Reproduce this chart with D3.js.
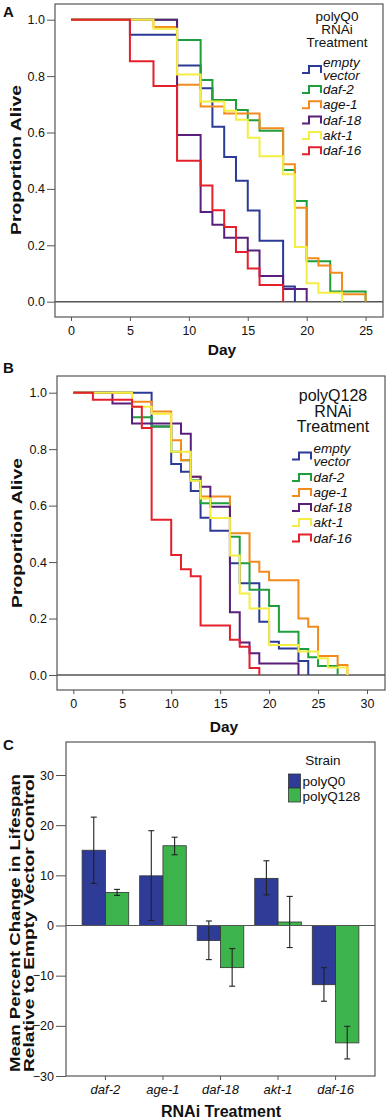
<!DOCTYPE html>
<html>
<head>
<meta charset="utf-8">
<script src="https://cdn.jsdelivr.net/npm/d3@7"></script>
<style>
  body { margin: 0; background: #fff; }
  text { font-family: Arial, "Liberation Sans", sans-serif; fill: #111; }
</style>
</head>
<body>
<svg id="fig" width="388" height="1119"></svg>
<script>
// ---- data: panel A (polyQ0), days and proportion alive ----
const strains = ["empty vector", "daf-2", "age-1", "daf-18", "akt-1", "daf-16"];
const strainColors = ["#2b3a96", "#1f9e3c", "#f28a1c", "#5a1f7c", "#f4ee42", "#e4202c"];

const aEmptyDays = [0, 5, 9, 11, 12, 13, 14, 15, 16, 18, 19];
const aEmptySurv = [1, 0.947, 0.838, 0.757, 0.62, 0.513, 0.429, 0.323, 0.216, 0.054, 0];
const aDaf2Days = [0, 9, 11, 12, 14, 15, 16, 18, 19, 20, 22, 25];
const aDaf2Surv = [1, 0.928, 0.786, 0.715, 0.68, 0.643, 0.606, 0.467, 0.357, 0.143, 0.036, 0];
const aAge1Days = [0, 7, 9, 11, 13, 16, 18, 19, 20, 21, 22, 23, 25];
const aAge1Surv = [1, 0.974, 0.769, 0.692, 0.667, 0.615, 0.487, 0.333, 0.154, 0.128, 0.103, 0.026, 0];
const aDaf18Days = [0, 9, 11, 12, 13, 15, 16, 18, 20];
const aDaf18Surv = [1, 0.591, 0.318, 0.273, 0.227, 0.182, 0.091, 0.045, 0];
const aAkt1Days = [0, 7, 9, 11, 13, 14, 15, 16, 18, 19, 20, 21, 23];
const aAkt1Surv = [1, 0.968, 0.806, 0.71, 0.677, 0.645, 0.581, 0.516, 0.452, 0.194, 0.065, 0.032, 0];
const aDaf16Days = [0, 5, 7, 9, 11, 12, 13, 14, 15, 16, 18];
const aDaf16Surv = [1, 0.853, 0.765, 0.5, 0.412, 0.324, 0.265, 0.176, 0.118, 0.059, 0];

// ---- data: panel B (polyQ128) ----
const bEmptyDays = [0, 8, 10, 11, 12, 13, 14, 16, 17, 19, 20, 21, 23, 24];
const bEmptySurv = [1, 0.88, 0.747, 0.72, 0.652, 0.557, 0.511, 0.396, 0.325, 0.189, 0.118, 0.094, 0.05, 0];
const bDaf2Days = [0, 6, 8, 10, 11, 12, 13, 16, 17, 18, 20, 21, 23, 24, 25, 27];
const bDaf2Surv = [1, 0.913, 0.88, 0.791, 0.761, 0.69, 0.608, 0.49, 0.396, 0.302, 0.244, 0.153, 0.092, 0.063, 0.032, 0];
const bAge1Days = [0, 6, 8, 10, 11, 12, 13, 16, 18, 19, 20, 23, 24, 25, 27, 28];
const bAge1Surv = [1, 0.968, 0.933, 0.832, 0.761, 0.702, 0.632, 0.502, 0.401, 0.366, 0.336, 0.2, 0.171, 0.067, 0.035, 0];
const bDaf18Days = [0, 4, 6, 11, 12, 13, 14, 16, 17, 18, 19, 23];
const bDaf18Surv = [1, 0.962, 0.891, 0.855, 0.702, 0.667, 0.596, 0.222, 0.115, 0.077, 0.041, 0];
const bAkt1Days = [0, 6, 8, 10, 12, 13, 14, 16, 17, 18, 20, 23, 25, 26, 28];
const bAkt1Surv = [1, 0.95, 0.925, 0.791, 0.688, 0.625, 0.556, 0.423, 0.289, 0.236, 0.106, 0.083, 0.059, 0.027, 0];
const bDaf16Days = [0, 2, 6, 7, 8, 10, 11, 12, 13, 16, 17, 18, 19];
const bDaf16Surv = [1, 0.975, 0.95, 0.875, 0.55, 0.425, 0.375, 0.35, 0.175, 0.125, 0.1, 0.025, 0];

const survTicks = [0, 0.2, 0.4, 0.6, 0.8, 1.0];

// ---- data: panel C, mean % change in lifespan with error bars ----
const treatments = ["daf-2", "age-1", "daf-18", "akt-1", "daf-16"];
const strainNames = ["polyQ0", "polyQ128"];
const barColors = ["#2e3c97", "#3db44b"];
const q0Mean = [15.0, 9.9, -3.0, 9.4, -11.8];
const q0Low = [8.4, 1.0, -6.8, 6.1, -15.1];
const q0High = [21.6, 18.9, 0.9, 12.9, -8.4];
const q128Mean = [6.6, 15.9, -8.4, 0.7, -23.4];
const q128Low = [6.0, 14.1, -12.1, -4.4, -26.6];
const q128High = [7.2, 17.6, -4.6, 5.8, -20.1];
const changeTicks = [-30, -20, -10, 0, 10, 20, 30];

const svg = d3.select("#fig");
const frameColor = "#555";

function survivalPanel(opt) {
  const g = svg.append("g");
  const x = d3.scaleLinear().domain(opt.xDomain).range(opt.xRange);
  const y = d3.scaleLinear().domain([0, 1]).range(opt.yRange);
  const f = opt.frame;

  g.append("rect")
    .attr("x", f.left).attr("y", f.top)
    .attr("width", f.right - f.left).attr("height", f.bottom - f.top)
    .attr("fill", "none").attr("stroke", frameColor).attr("stroke-width", 1.2);

  // y axis
  const ya = g.append("g")
    .attr("transform", `translate(${f.left},0)`)
    .call(d3.axisLeft(y).tickValues(survTicks).tickFormat(d3.format(".1f")).tickSize(8).tickPadding(2));
  ya.select(".domain").remove();
  ya.selectAll("line").attr("stroke", frameColor);
  ya.selectAll("text").attr("font-size", 12.5).attr("fill", "#111");

  // x axis
  const xa = g.append("g")
    .attr("transform", `translate(0,${f.bottom})`)
    .call(d3.axisBottom(x).tickValues(opt.xTicks).tickSize(4).tickPadding(5));
  xa.select(".domain").remove();
  xa.selectAll("line").attr("stroke", frameColor);
  xa.selectAll("text").attr("font-size", 12.5).attr("fill", "#111");

  // reference line at 0
  g.append("line")
    .attr("x1", f.left).attr("x2", f.right)
    .attr("y1", y(0)).attr("y2", y(0))
    .attr("stroke", frameColor).attr("stroke-width", 1.6);

  const line = d3.line()
    .x(d => x(d[0])).y(d => y(d[1]))
    .curve(d3.curveStepAfter);

  g.append("g").selectAll("path")
    .data(opt.series)
    .join("path")
    .attr("d", d => line(d.days.map((t, i) => [t, d.surv[i]])))
    .attr("fill", "none")
    .attr("stroke", (d, i) => strainColors[i])
    .attr("stroke-width", 2);

  // titles
  g.append("text")
    .attr("x", (f.left + f.right) / 2 + 3).attr("y", opt.dayY)
    .attr("text-anchor", "middle").attr("font-weight", "bold").attr("font-size", 15.5)
    .text("Day");
  g.append("text")
    .attr("transform", `translate(${opt.ylabX},${opt.ylabY}) rotate(-90)`)
    .attr("text-anchor", "middle").attr("font-weight", "bold").attr("font-size", 15.5)
    .attr("textLength", 150).attr("lengthAdjust", "spacingAndGlyphs")
    .text("Proportion Alive");
  g.append("text")
    .attr("x", 3).attr("y", opt.letterY)
    .attr("font-weight", "bold").attr("font-size", 15)
    .text(opt.letter);

  // legend
  const L = opt.legend;
  opt.legendTitle.forEach((t, i) => {
    g.append("text")
      .attr("x", L.titleX).attr("y", L.titleY + i * L.titleStep)
      .attr("text-anchor", "middle").attr("font-size", L.titleSize)
      .text(t);
  });
  strains.forEach((s, i) => {
    const yb = L.rowY[i];
    g.append("path")
      .attr("d", `M${L.symX},${yb} H${L.symX + 7} V${yb - 7} H${L.symX + 19} V${yb}`)
      .attr("fill", "none").attr("stroke", strainColors[i]).attr("stroke-width", 2);
    if (i === 0) {
      g.append("text").attr("x", L.textX).attr("y", yb - 6.5)
        .attr("font-style", "italic").attr("font-size", 13.5).text("empty");
      g.append("text").attr("x", L.textX).attr("y", yb + 6.5)
        .attr("font-style", "italic").attr("font-size", 13.5).text("vector");
    } else {
      g.append("text").attr("x", L.textX).attr("y", yb + 1)
        .attr("font-style", "italic").attr("font-size", 13.5).text(s);
    }
  });
}

survivalPanel({
  letter: "A", letterY: 17,
  frame: { left: 55, right: 383, top: 4, bottom: 317 },
  xDomain: [0, 25], xRange: [71, 365.6], xTicks: [0, 5, 10, 15, 20, 25],
  yRange: [301.7, 19.7],
  dayY: 355, ylabX: 21, ylabY: 160,
  series: [
    { days: aEmptyDays, surv: aEmptySurv },
    { days: aDaf2Days, surv: aDaf2Surv },
    { days: aAge1Days, surv: aAge1Surv },
    { days: aDaf18Days, surv: aDaf18Surv },
    { days: aAkt1Days, surv: aAkt1Surv },
    { days: aDaf16Days, surv: aDaf16Surv }
  ],
  legendTitle: ["polyQ0", "RNAi", "Treatment"],
  legend: { titleX: 337, titleY: 21, titleStep: 13.2, titleSize: 13.5,
            symX: 302, textX: 323, rowY: [73, 93, 108.3, 123.6, 138.9, 154.2] }
});

survivalPanel({
  letter: "B", letterY: 373,
  frame: { left: 57, right: 385, top: 376, bottom: 690 },
  xDomain: [0, 30], xRange: [73.3, 367], xTicks: [0, 5, 10, 15, 20, 25, 30],
  yRange: [675, 392.7],
  dayY: 732, ylabX: 22, ylabY: 533,
  series: [
    { days: bEmptyDays, surv: bEmptySurv },
    { days: bDaf2Days, surv: bDaf2Surv },
    { days: bAge1Days, surv: bAge1Surv },
    { days: bDaf18Days, surv: bDaf18Surv },
    { days: bAkt1Days, surv: bAkt1Surv },
    { days: bDaf16Days, surv: bDaf16Surv }
  ],
  legendTitle: ["polyQ128", "RNAi", "Treatment"],
  legend: { titleX: 333, titleY: 401, titleStep: 15.7, titleSize: 16,
            symX: 292, textX: 313.5, rowY: [459.5, 481, 496, 511, 526, 541.5] }
});

// ---- panel C: grouped bars ----
(function barPanel() {
  const g = svg.append("g");
  const frame = { left: 66, right: 375, top: 742, bottom: 1076 };
  const x0 = d3.scaleBand().domain(treatments).range([frame.left, frame.right])
    .paddingInner(0.19).paddingOuter(0.28);
  const x1 = d3.scaleBand().domain(strainNames).range([0, x0.bandwidth()]);
  const y = d3.scaleLinear().domain([-30, 30]).range([1076, 775]);

  g.append("rect")
    .attr("x", frame.left).attr("y", frame.top)
    .attr("width", frame.right - frame.left).attr("height", frame.bottom - frame.top)
    .attr("fill", "none").attr("stroke", frameColor).attr("stroke-width", 1.2);

  const ya = g.append("g").attr("transform", `translate(${frame.left},0)`)
    .call(d3.axisLeft(y).tickValues(changeTicks).tickSize(10).tickPadding(2));
  ya.select(".domain").remove();
  ya.selectAll("line").attr("stroke", frameColor);
  ya.selectAll("text").attr("font-size", 12.5).attr("fill", "#111");

  const xa = g.append("g").attr("transform", `translate(0,${frame.bottom})`)
    .call(d3.axisBottom(x0).tickSize(4).tickPadding(5));
  xa.select(".domain").remove();
  xa.selectAll("line").attr("stroke", frameColor);
  xa.selectAll("text").attr("font-size", 13).attr("font-style", "italic").attr("fill", "#111");

  const rows = treatments.map((t, i) => ({
    t,
    vals: [
      { s: "polyQ0", m: q0Mean[i], lo: q0Low[i], hi: q0High[i], c: barColors[0] },
      { s: "polyQ128", m: q128Mean[i], lo: q128Low[i], hi: q128High[i], c: barColors[1] }
    ]
  }));

  const grp = g.append("g").selectAll("g")
    .data(rows).join("g")
    .attr("transform", d => `translate(${x0(d.t)},0)`);

  grp.selectAll("rect")
    .data(d => d.vals).join("rect")
    .attr("x", d => x1(d.s))
    .attr("y", d => y(Math.max(0, d.m)))
    .attr("width", x1.bandwidth())
    .attr("height", d => Math.abs(y(d.m) - y(0)))
    .attr("fill", d => d.c)
    .attr("stroke", "#333").attr("stroke-width", 0.8);

  // zero line
  g.append("line")
    .attr("x1", frame.left).attr("x2", frame.right)
    .attr("y1", y(0)).attr("y2", y(0))
    .attr("stroke", frameColor).attr("stroke-width", 1.2);

  // error bars
  const eb = grp.selectAll("g.eb").data(d => d.vals).join("g").attr("class", "eb");
  const cx = d => x1(d.s) + x1.bandwidth() / 2;
  eb.append("line").attr("x1", cx).attr("x2", cx)
    .attr("y1", d => y(d.lo)).attr("y2", d => y(d.hi))
    .attr("stroke", "#222").attr("stroke-width", 1.1);
  eb.append("line").attr("x1", d => cx(d) - 3).attr("x2", d => cx(d) + 3)
    .attr("y1", d => y(d.hi)).attr("y2", d => y(d.hi))
    .attr("stroke", "#222").attr("stroke-width", 1.1);
  eb.append("line").attr("x1", d => cx(d) - 3).attr("x2", d => cx(d) + 3)
    .attr("y1", d => y(d.lo)).attr("y2", d => y(d.lo))
    .attr("stroke", "#222").attr("stroke-width", 1.1);

  // legend
  g.append("text").attr("x", 323).attr("y", 765)
    .attr("text-anchor", "middle").attr("font-size", 13.5).text("Strain");
  strainNames.forEach((s, i) => {
    g.append("rect").attr("x", 288.5).attr("y", 774 + i * 14)
      .attr("width", 12).attr("height", 14)
      .attr("fill", barColors[i]).attr("stroke", "#333").attr("stroke-width", 0.8);
    g.append("text").attr("x", 302.5).attr("y", 786 + i * 14.5)
      .attr("font-size", 13.5).text(s);
  });

  // titles
  g.append("text").attr("x", 221).attr("y", 1117)
    .attr("text-anchor", "middle").attr("font-weight", "bold").attr("font-size", 16)
    .text("RNAi Treatment");
  g.append("text")
    .attr("transform", "translate(20,923) rotate(-90)")
    .attr("text-anchor", "middle").attr("font-weight", "bold").attr("font-size", 15.5)
    .attr("textLength", 298).attr("lengthAdjust", "spacingAndGlyphs")
    .text("Mean Percent Change in Lifespan");
  g.append("text")
    .attr("transform", "translate(34,923) rotate(-90)")
    .attr("text-anchor", "middle").attr("font-weight", "bold").attr("font-size", 15.5)
    .attr("textLength", 298).attr("lengthAdjust", "spacingAndGlyphs")
    .text("Relative to Empty Vector Control");
  g.append("text").attr("x", 3).attr("y", 750)
    .attr("font-weight", "bold").attr("font-size", 15).text("C");
})();
</script>
</body>
</html>
